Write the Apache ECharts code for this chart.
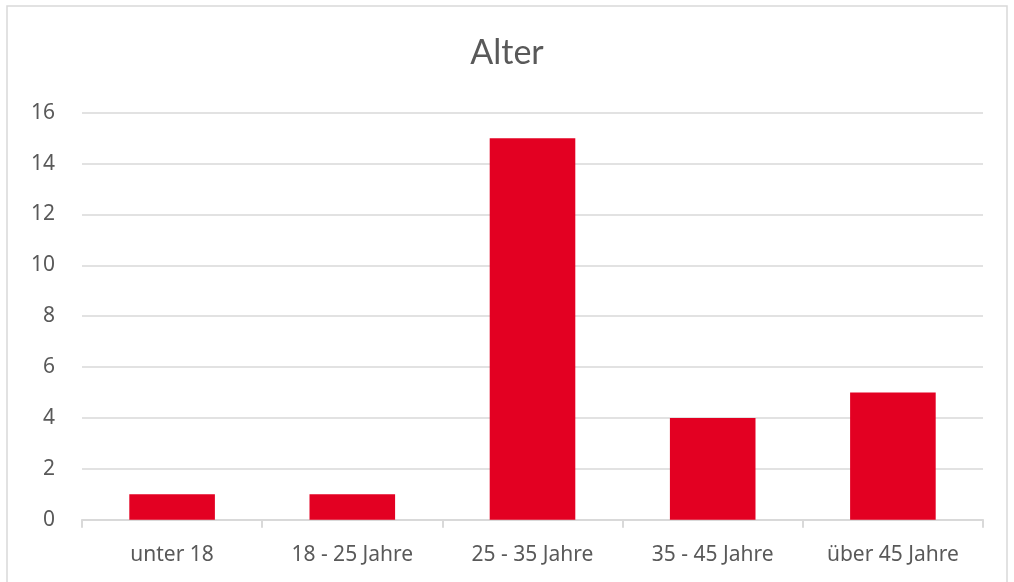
<!DOCTYPE html>
<html>
<head>
<meta charset="utf-8">
<script src="https://cdn.jsdelivr.net/npm/echarts@6/dist/echarts.min.js"></script>
<style>
  html, body { margin: 0; padding: 0; background: #fff; }
  #main { width: 1014px; height: 582px; }
</style>
</head>
<body>
<div id="main"></div>
<script>
var categories = ['unter 18', '18 - 25 Jahre', '25 - 35 Jahre', '35 - 45 Jahre', 'über 45 Jahre'];
var counts = [1, 1, 15, 4, 5];
var yTicks = [0, 2, 4, 6, 8, 10, 12, 14, 16];

var charts = echarts.init(document.getElementById('main'));
var option = {
    animation: false,
    textStyle: { fontFamily: 'Noto Sans' },
    title: {
        text: 'Alter',
        left: 'center',
        top: 31,
        textStyle: { fontFamily: 'Lato', fontSize: 34, fontWeight: 'normal', color: '#595959' }
    },
    graphic: [{
        type: 'rect',
        shape: { x: 7, y: 6, width: 1000, height: 590 },
        style: { fill: 'none', stroke: '#d9d9d9', lineWidth: 1.5 },
        silent: true
    }],
    grid: { left: 82, right: 31, top: 112.7, bottom: 62.3 },
    xAxis: {
        type: 'category',
        data: categories,
        axisLine: { lineStyle: { color: '#d9d9d9', width: 2 } },
        axisTick: { show: true, length: 8, lineStyle: { color: '#d9d9d9', width: 2 } },
        axisLabel: { color: '#595959', fontSize: 21, margin: 25, fontFamily: 'Noto Sans' }
    },
    yAxis: {
        type: 'value',
        min: yTicks[0],
        max: yTicks[yTicks.length - 1],
        interval: 2,
        axisLine: { show: false },
        axisTick: { show: false },
        axisLabel: { color: '#595959', fontSize: 21, margin: 27, fontFamily: 'Noto Sans' },
        splitLine: { lineStyle: { color: '#d9d9d9', width: 1.5 } }
    },
    series: [{
        type: 'bar',
        data: counts,
        barWidth: '47.5%',
        itemStyle: { color: '#e30022' }
    }]
};
charts.setOption(option);
</script>
</body>
</html>
